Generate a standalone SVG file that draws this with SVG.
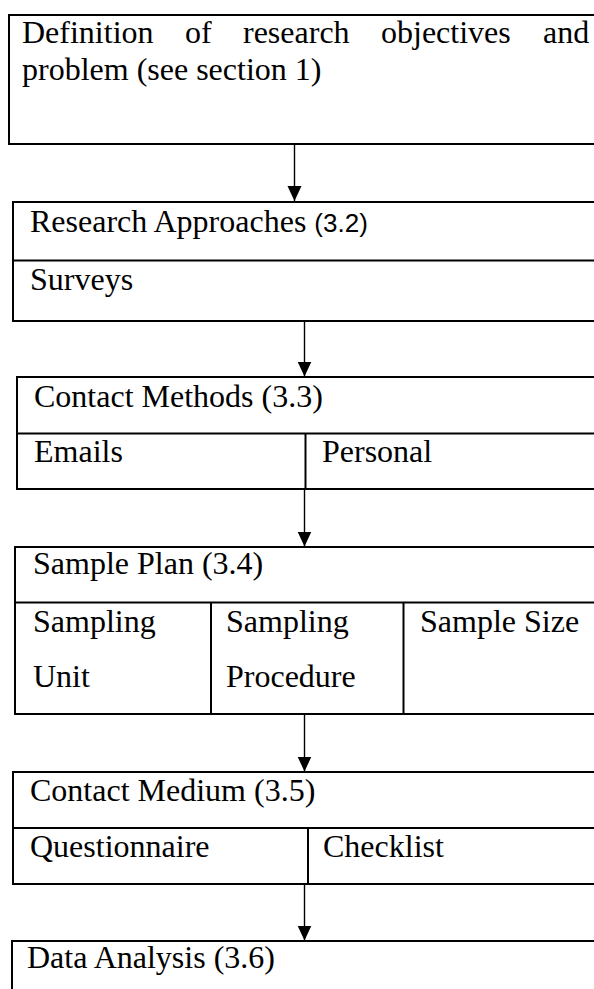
<svg xmlns="http://www.w3.org/2000/svg" width="594" height="989" viewBox="0 0 594 989">
  <style>
    .box { fill: #ffffff; stroke: #000000; stroke-width: 2; }
    .rule { stroke: #000000; stroke-width: 2; fill: none; }
    .lbl { font-family: "Liberation Serif", "Times New Roman", serif; font-size: 32px; fill: #000000; }
    .sec { font-family: "Liberation Sans", Arial, sans-serif; font-size: 26px; }
    .link { stroke: #000000; stroke-width: 1.4; fill: none; }
  </style>
  <defs>
    <!-- filled triangular arrowhead, drawn along +x so orient="auto" turns it with the line -->
    <marker id="head" markerUnits="userSpaceOnUse" markerWidth="16" markerHeight="16" refX="15" refY="7" orient="auto" viewBox="0 0 16 14">
      <path d="M0,0 L15,7 L0,14 Z" fill="#000000"/>
    </marker>
  </defs>
  <rect width="594" height="989" fill="#ffffff"/>

  <!-- step 1: objectives -->
  <g id="objectives">
    <rect class="box" x="9" y="15" width="600" height="129"/>
    <text class="lbl" y="43"><tspan x="22">Definition</tspan><tspan x="185">of</tspan><tspan x="243">research</tspan><tspan x="381">objectives</tspan><tspan x="543">and</tspan></text>
    <text class="lbl" x="22" y="80">problem (see section 1)</text>
  </g>

  <!-- step 2: research approaches -->
  <g id="approaches">
    <rect class="box" x="13" y="202" width="600" height="119"/>
    <line class="rule" x1="13" y1="260.5" x2="600" y2="260.5"/>
    <text class="lbl" x="30" y="232">Research Approaches <tspan class="sec">(3.2)</tspan></text>
    <text class="lbl" x="30" y="290">Surveys</text>
  </g>

  <!-- step 3: contact methods -->
  <g id="contact-methods">
    <rect class="box" x="17" y="377" width="600" height="112"/>
    <line class="rule" x1="17" y1="433.5" x2="600" y2="433.5"/>
    <line class="rule" x1="305.5" y1="433.5" x2="305.5" y2="489"/>
    <text class="lbl" x="34" y="407">Contact Methods (3.3)</text>
    <text class="lbl" x="34" y="462">Emails</text>
    <text class="lbl" x="322" y="462">Personal</text>
  </g>

  <!-- step 4: sample plan -->
  <g id="sample-plan">
    <rect class="box" x="15" y="547" width="600" height="167"/>
    <line class="rule" x1="15" y1="602.5" x2="600" y2="602.5"/>
    <line class="rule" x1="211" y1="602.5" x2="211" y2="714"/>
    <line class="rule" x1="403.5" y1="602.5" x2="403.5" y2="714"/>
    <text class="lbl" x="33" y="574">Sample Plan (3.4)</text>
    <text class="lbl" x="33" y="632">Sampling</text>
    <text class="lbl" x="33" y="687">Unit</text>
    <text class="lbl" x="226" y="632">Sampling</text>
    <text class="lbl" x="226" y="687">Procedure</text>
    <text class="lbl" x="420" y="632">Sample Size</text>
  </g>

  <!-- step 5: contact medium -->
  <g id="contact-medium">
    <rect class="box" x="13" y="772" width="600" height="112"/>
    <line class="rule" x1="13" y1="828" x2="600" y2="828"/>
    <line class="rule" x1="308" y1="828" x2="308" y2="884"/>
    <text class="lbl" x="30" y="801">Contact Medium (3.5)</text>
    <text class="lbl" x="30" y="857">Questionnaire</text>
    <text class="lbl" x="323" y="857">Checklist</text>
  </g>

  <!-- step 6: data analysis -->
  <g id="data-analysis">
    <rect class="box" x="12" y="941" width="600" height="80"/>
    <text class="lbl" x="27" y="968">Data Analysis (3.6)</text>
  </g>

  <!-- flow arrows between steps -->
  <g id="connectors">
    <line class="link" x1="294.5" y1="144" x2="294.5" y2="201" marker-end="url(#head)"/>
    <line class="link" x1="304.5" y1="321" x2="304.5" y2="376.5" marker-end="url(#head)"/>
    <line class="link" x1="304.5" y1="489" x2="304.5" y2="546.5" marker-end="url(#head)"/>
    <line class="link" x1="304.5" y1="714" x2="304.5" y2="771.5" marker-end="url(#head)"/>
    <line class="link" x1="304.5" y1="884" x2="304.5" y2="940.5" marker-end="url(#head)"/>
  </g>
</svg>
